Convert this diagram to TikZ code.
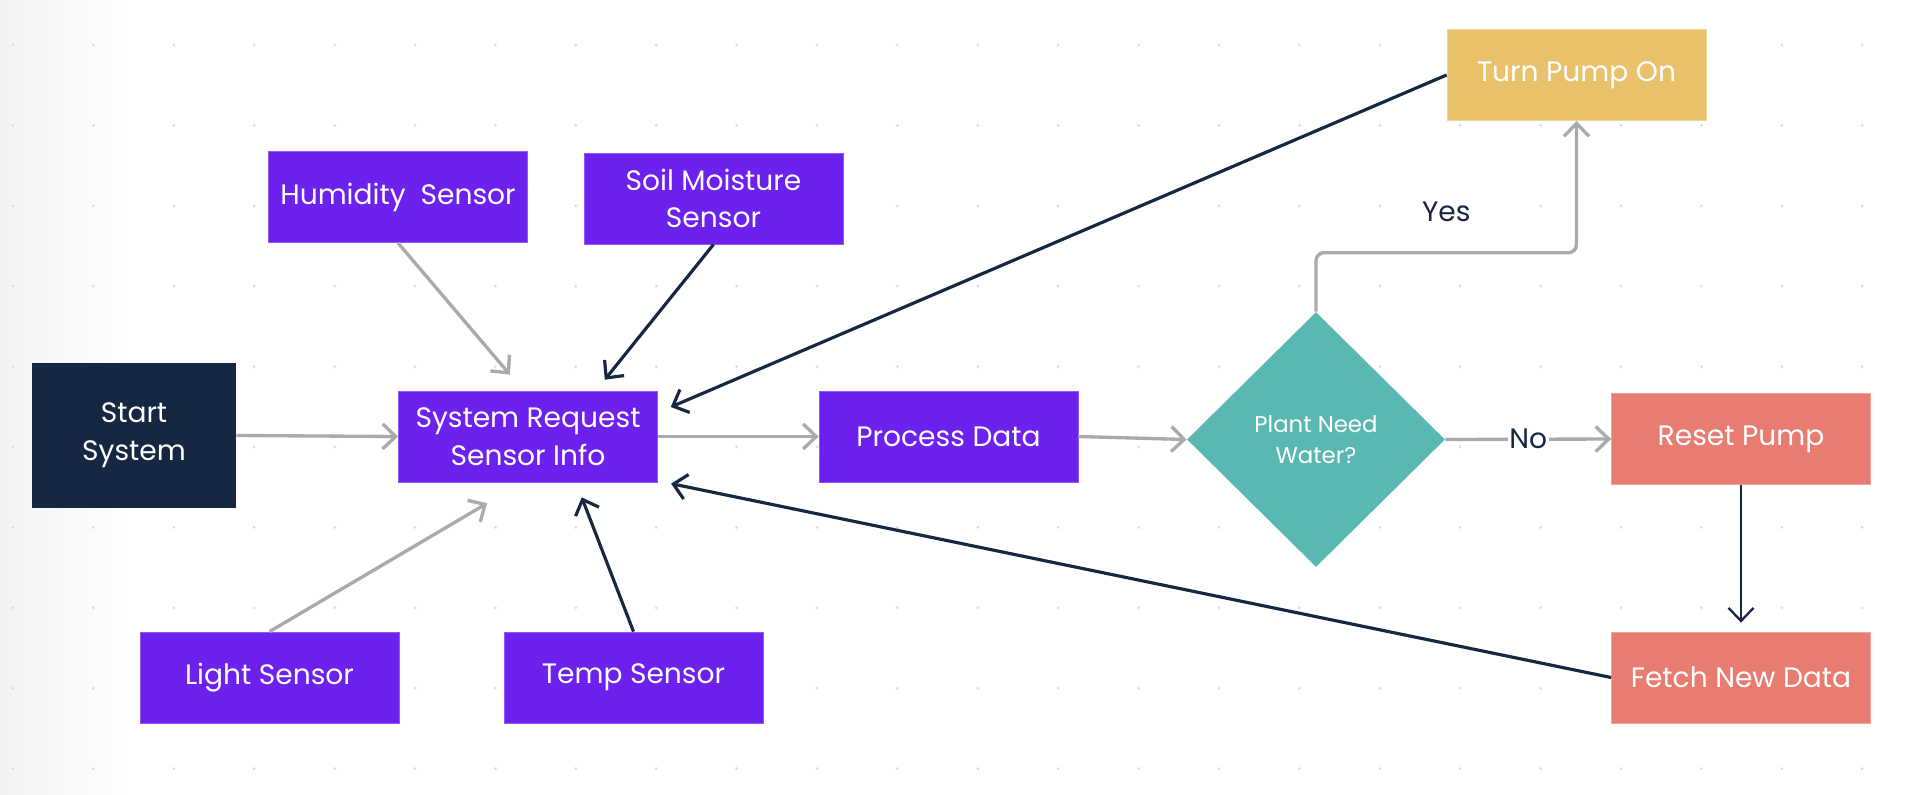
\documentclass[tikz,border=0pt]{standalone}
\usepackage{fontspec}
\setmainfont{Poppins}
\usepackage{xcolor}
\usepackage{tikz}
\usetikzlibrary{positioning}
\usetikzlibrary{shapes.geometric}
\usetikzlibrary{arrows.meta}

\definecolor{sensorpurple}{HTML}{6D21EE}
\definecolor{startnavy}{HTML}{152741}
\definecolor{pumpgold}{HTML}{EBC26C}
\definecolor{decisionteal}{HTML}{5AB8B3}
\definecolor{resetsalmon}{HTML}{E87C71}
\definecolor{linegray}{HTML}{A8AAAD}
\definecolor{dotgray}{HTML}{DADCE0}

\tikzset{
  box/.style={rectangle, minimum width=5.18cm, minimum height=1.82cm, inner sep=0pt,
    text=white, align=center, font=\fontsize{16}{21.5}\selectfont},
  sensor/.style={box, fill=sensorpurple, draw=sensorpurple!75!white, line width=0.5pt},
  startbox/.style={box, fill=startnavy, minimum width=4.08cm, minimum height=2.9cm},
  pumpbox/.style={box, fill=pumpgold, draw=pumpgold!70!white, line width=0.5pt},
  resetbox/.style={box, fill=resetsalmon, draw=resetsalmon!70!white, line width=0.5pt},
  decision/.style={diamond, fill=decisionteal, minimum width=5.16cm, minimum height=5.1cm,
    inner sep=0pt, text=white, align=center, font=\fontsize{13}{18}\selectfont},
  answer/.style={text=startnavy, font=\fontsize{16}{20}\selectfont, inner sep=1pt},
  graylink/.style={draw=linegray, line width=1.9pt,
    -{Straight Barb[length=0.26cm,width=0.5cm]}},
  darklink/.style={draw=startnavy, line width=1.8pt,
    -{Straight Barb[length=0.26cm,width=0.5cm]}}
}

\begin{document}
\begin{tikzpicture}[x=0.02cm,y=-0.02cm]

  \useasboundingbox (0,0) rectangle (1932,794);
  \fill[white] (0,0) rectangle (1932,794);
  \shade[left color=black!5, right color=white] (0,0) rectangle (130,794);

  % dotted canvas
  \foreach \i in {0,...,23}
  \foreach \j in {0,...,9}
  {
      \fill[dotgray] (13+80.4*\i,45+80.4*\j) circle (0.03cm);
  }

  % setup the nodes
  \node[startbox] (start)    at (134,435.5)   {Start\\System};
  \node[sensor]   (request)  at (528,436.5)   {System Request\\Sensor Info};
  \node[sensor]   (humidity) at (398,197)     {Humidity\ \ Sensor};
  \node[sensor]   (soil)     at (713.5,198.5) {Soil Moisture\\Sensor};
  \node[sensor]   (light)    at (269.5,677.5) {Light Sensor};
  \node[sensor]   (temp)     at (633.5,677.5) {Temp Sensor};
  \node[sensor]   (process)  at (948.5,436.5) {Process Data};
  \node[decision] (water)    at (1316,439.5)  {Plant Need\\Water?};
  \node[pumpbox]  (pumpon)   at (1576.5,75)   {Turn Pump On};
  \node[resetbox] (reset)    at (1741,439)    {Reset Pump};
  \node[resetbox] (fetch)    at (1741,677.5)  {Fetch New Data};

  % main flow
  \draw[graylink] (start.east) -- (request.west);
  \draw[graylink] (request.east) -- (process.west);
  \draw[graylink] (process.east) -- (water.west);
  \draw[graylink] (water.east) -- node[answer, fill=white] {No} (reset.west);
  \draw[graylink, rounded corners=0.16cm] (water.north) -- ++(0,-59)
      -| node[answer, pos=0.25, yshift=0.82cm] {Yes} (pumpon.south);
  \draw[darklink, line width=1.3pt, shorten >=0.18cm] (reset.south) -- (fetch.north);

  % sensors into the request
  \draw[graylink, shorten >=0.42cm] (humidity.south) -- ([xshift=-0.09cm]request.north);
  \draw[darklink, shorten >=0.28cm] (soil.south) -- ([xshift=1.36cm]request.north);
  \draw[graylink, shorten >=0.82cm] (light.north) -- ([xshift=-0.11cm]request.south);
  \draw[darklink, shorten >=0.32cm] (temp.north) -- ([xshift=0.96cm]request.south);

  % loops back
  \draw[darklink, shorten >=0.28cm] (pumpon.west) -- ([yshift=0.48cm]request.east);
  \draw[darklink, shorten >=0.27cm] (fetch.west) -- ([yshift=0.03cm]request.south east);

\end{tikzpicture}
\end{document}
